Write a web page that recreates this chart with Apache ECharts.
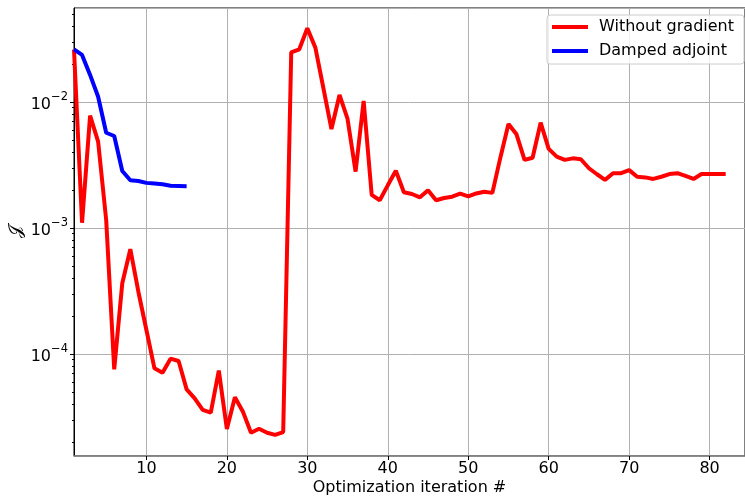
<!DOCTYPE html>
<html>
<head>
<meta charset="utf-8">
<script src="https://cdn.jsdelivr.net/npm/echarts@6/dist/echarts.min.js"></script>
<style>
  html, body { margin: 0; padding: 0; background: #fff; }
  #chart { width: 745px; height: 499px; }
</style>
</head>
<body>
<div id="chart"></div>
<script>
  // objective J per optimization iteration (iteration = index + 1)
  const withoutGradient = [
    0.026, 1.10e-3, 7.8e-3, 4.84e-3, 1.16e-3, 7.56e-5, 3.64e-4, 6.78e-4, 3.12e-4, 1.55e-4,
    7.69e-5, 7.1e-5, 9.18e-5, 8.8e-5, 5.24e-5, 4.45e-5, 3.6e-5, 3.42e-5, 7.38e-5, 2.54e-5,
    4.53e-5, 3.48e-5, 2.37e-5, 2.55e-5, 2.37e-5, 2.28e-5, 2.4e-5, 0.0248, 0.0262, 0.0385,
    0.027, 0.01285, 6.1e-3, 0.01137, 7.33e-3, 2.8e-3, 0.0102, 1.83e-3, 1.66e-3, 2.18e-3,
    2.85e-3, 1.92e-3, 1.86e-3, 1.75e-3, 1.99e-3, 1.66e-3, 1.73e-3, 1.77e-3, 1.87e-3, 1.78e-3,
    1.88e-3, 1.94e-3, 1.9e-3, 3.63e-3, 6.69e-3, 5.54e-3, 3.47e-3, 3.61e-3, 6.85e-3, 4.24e-3,
    3.68e-3, 3.47e-3, 3.57e-3, 3.51e-3, 2.98e-3, 2.67e-3, 2.41e-3, 2.72e-3, 2.72e-3, 2.88e-3,
    2.55e-3, 2.52e-3, 2.45e-3, 2.55e-3, 2.68e-3, 2.72e-3, 2.59e-3, 2.45e-3, 2.68e-3, 2.68e-3,
    2.68e-3, 2.68e-3
  ]
  const dampedAdjoint = [
    0.0262, 0.0236, 0.0164, 0.0110, 5.7e-3, 5.37e-3, 2.83e-3, 2.39e-3, 2.36e-3, 2.28e-3,
    2.25e-3, 2.22e-3, 2.16e-3, 2.15e-3, 2.14e-3
  ]
  const seriesNames = ['Without gradient', 'Damped adjoint']
  const yMinorTicks = [
    2e-5, 3e-5, 4e-5, 5e-5, 6e-5, 7e-5, 8e-5, 9e-5,
    2e-4, 3e-4, 4e-4, 5e-4, 6e-4, 7e-4, 8e-4, 9e-4,
    2e-3, 3e-3, 4e-3, 5e-3, 6e-3, 7e-3, 8e-3, 9e-3,
    2e-2, 3e-2, 4e-2, 5e-2
  ]

  const X_MIN = 1, X_MAX = 84.4
  const Y_MIN = 1.55e-5, Y_MAX = 0.0557
  const font = 'DejaVu Sans'

  const toPairs = arr => arr.map((v, i) => [i + 1, v])

  const chart = echarts.init(document.getElementById('chart'))

  chart.setOption({
    animation: false,
    grid: {
      left: 74,
      right: 0,
      top: 8,
      bottom: 43,
      containLabel: false,
      outerBoundsMode: 'none',
      show: true,
      borderColor: '#000',
      borderWidth: 1
    },
    legend: {
      orient: 'vertical',
      right: 1,
      top: 15,
      padding: [3, 10, 4, 5],
      itemWidth: 36,
      itemHeight: 4,
      itemGap: 6,
      icon: 'rect',
      backgroundColor: 'rgba(255,255,255,0.8)',
      borderColor: '#ccc',
      borderWidth: 1,
      borderRadius: 3,
      textStyle: { fontFamily: font, fontSize: 16, color: '#000', lineHeight: 18, padding: [0, 0, 0, 6] },
      data: seriesNames
    },
    xAxis: {
      type: 'value',
      min: X_MIN,
      max: X_MAX,
      splitNumber: 8,
      name: 'Optimization iteration #',
      nameLocation: 'middle',
      nameGap: 24,
      nameMoveOverlap: false,
      nameTextStyle: { fontFamily: font, fontSize: 16, color: '#000' },
      axisLine: { lineStyle: { color: '#808080', width: 1.5 } },
      axisTick: { length: 4, lineStyle: { color: '#000' } },
      axisLabel: {
        fontFamily: font, fontSize: 16, color: '#000', margin: 5,
        showMinLabel: false, showMaxLabel: false
      },
      splitLine: { show: true, lineStyle: { color: '#b0b0b0', width: 1 } }
    },
    yAxis: [
      {
        type: 'log',
        logBase: 10,
        min: Y_MIN,
        max: Y_MAX,
        name: '𝒥',
        nameLocation: 'middle',
        nameRotate: 90,
        nameGap: 49,
        nameMoveOverlap: false,
        nameTextStyle: { fontFamily: font, fontSize: 18, color: '#000' },
        axisLine: { show: true, lineStyle: { color: '#000', width: 1 } },
        axisTick: { length: 4, lineStyle: { color: '#000' } },
        axisLabel: {
          margin: 6,
          showMinLabel: false,
          showMaxLabel: false,
          formatter: v => {
            const e = Math.round(Math.log10(v))
            return '{b|10}{s|−' + Math.abs(e) + '}'
          },
          rich: {
            b: { fontFamily: font, fontSize: 16, color: '#000', verticalAlign: 'bottom', lineHeight: 22 },
            s: { fontFamily: font, fontSize: 11.5, color: '#000', verticalAlign: 'top', lineHeight: 22 }
          }
        },
        splitLine: { show: true, lineStyle: { color: '#b0b0b0', width: 1 } }
      },
      {
        type: 'log',
        logBase: 10,
        min: Y_MIN,
        max: Y_MAX,
        position: 'left',
        axisLine: { show: false },
        axisLabel: { show: false },
        splitLine: { show: false },
        axisTick: { show: true, length: 2, customValues: yMinorTicks, lineStyle: { color: '#000' } }
      }
    ],
    series: [
      {
        name: seriesNames[0],
        type: 'line',
        data: toPairs(withoutGradient),
        showSymbol: false,
        symbol: 'none',
        lineStyle: { width: 4, color: '#ff0000' },
        itemStyle: { color: '#ff0000' }
      },
      {
        name: seriesNames[1],
        type: 'line',
        data: toPairs(dampedAdjoint),
        showSymbol: false,
        symbol: 'none',
        lineStyle: { width: 4, color: '#0000ff' },
        itemStyle: { color: '#0000ff' }
      }
    ]
  })
</script>
</body>
</html>
